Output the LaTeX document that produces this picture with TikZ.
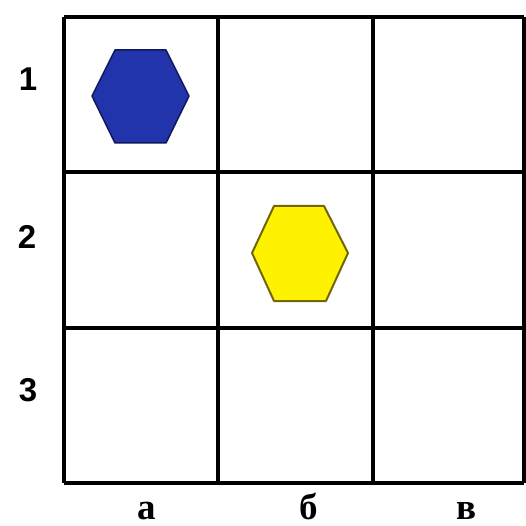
\documentclass[tikz,border=0pt]{standalone}
\usepackage{fontspec}
\setmainfont{Liberation Serif}
\newfontfamily\digitfont{Liberation Sans}
\definecolor{hexblue}{RGB}{34,52,172}
\definecolor{hexblueedge}{RGB}{16,24,92}
\definecolor{hexyellow}{RGB}{255,242,0}
\definecolor{hexyellowedge}{RGB}{112,102,10}
\tikzset{
  gridline/.style={line width=4pt, black},
  rowlabel/.style={font=\digitfont\bfseries\fontsize{33}{33}\selectfont, inner sep=0pt},
  collabel/.style={font=\bfseries\fontsize{37}{37}\selectfont, inner sep=0pt, anchor=base},
  bluehex/.style={fill=hexblue, draw=hexblueedge, line width=1.5pt, line join=round},
  yellowhex/.style={fill=hexyellow, draw=hexyellowedge, line width=2pt, line join=round}
}
\begin{document}
\begin{tikzpicture}[x=1pt, y=-1pt]
\useasboundingbox (0,0) rectangle (526,526);
\fill[white] (0,0) rectangle (526,526);
% grid
\foreach \x in {64,218,373,524} \draw[gridline] (\x,17) -- (\x,483);
\foreach \y in {17,172,328,483} \draw[gridline] (64,\y) -- (524,\y);
% hexagons
\draw[bluehex] (92,96) -- (115,50) -- (166,50) -- (189,96) -- (166,143) -- (115,143) -- cycle;
\draw[yellowhex] (252,253) -- (274,206) -- (324,206) -- (348,253) -- (326,301) -- (274,301) -- cycle;
% row labels
\node[rowlabel] (r1) at (28,79) {1};
\node[rowlabel] (r2) at (27,237) {2};
\node[rowlabel] (r3) at (28,390) {3};
% column labels
\node[collabel] (ca) at (147,519) {а};
\node[collabel] (cb) at (309,519) {б};
\node[collabel] (cc) at (466,519) {в};
\end{tikzpicture}
\end{document}
